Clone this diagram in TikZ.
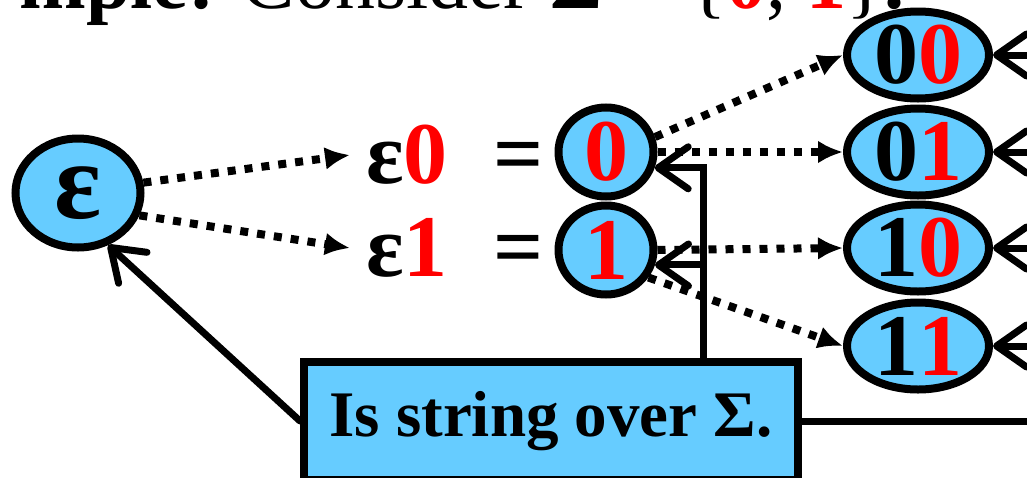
\documentclass[tikz,border=0pt]{standalone}
\usepackage{fontspec}
\setmainfont{Liberation Serif}
\usetikzlibrary{arrows.meta, shapes.geometric}

\definecolor{cellblue}{HTML}{66CCFF}

\begin{document}
\begin{tikzpicture}[
  x=1pt, y=-1pt,
  state/.style={ellipse, fill=cellblue, draw=black, line width=8pt, inner sep=0pt, font=\fontsize{88}{90}\selectfont\bfseries},
  single/.style={state, minimum width=95pt, minimum height=89pt},
  pair/.style={state, minimum width=142pt, minimum height=87pt},
  eqlabel/.style={anchor=west, inner xsep=16pt, inner ysep=0pt, font=\fontsize{88}{90}\selectfont\bfseries},
  dots/.style={line width=8pt, dash pattern=on 8pt off 9pt, -{Latex[length=25pt, width=23pt]}},
  back/.style={line width=7pt, line cap=round, -{Straight Barb[length=30pt, width=42pt, round]}},
  plain/.style={line width=7pt},
  note/.style={rectangle, fill=cellblue, draw=black, line width=8pt, minimum width=494pt, minimum height=118pt, font=\fontsize{65}{70}\selectfont\bfseries},
]
\useasboundingbox (0,0) rectangle (1027,477);
\clip (0,0) rectangle (1027,477);

% Title (cut by the frame)
\node[anchor=base east, inner sep=0pt, font=\fontsize{80}{80}\selectfont] (title) at (905,8)
  {\textbf{mple:} Consider \textbf{Σ} = \{{\color{red}\textbf{0}}, {\color{red}\textbf{1}}\}\textbf{.}};

% =========================
% empty string and its extensions
% =========================
\node[state, minimum width=125pt, minimum height=109pt, font=\fontsize{110}{110}\selectfont\bfseries] (eps) at (78,193) {ε};

\node[eqlabel] (lbl0) at (350,155) {ε{\color{red}0}\hspace{46pt}=};
\node[eqlabel] (lbl1) at (350,248) {ε{\color{red}1}\hspace{46pt}=};

\draw[dots] (eps.9) -- (lbl0.west);
\draw[dots] (eps.-20) -- (lbl1.west);

% =========================
% strings of length 1 and 2
% =========================
\node[single] (n0) at (606,152) {\color{red}0};
\node[single] (n1) at (606,250) {\color{red}1};

\node[pair] (n00) at (918,55)  {0{\color{red}0}};
\node[pair] (n01) at (918,152) {0{\color{red}1}};
\node[pair] (n10) at (918,248) {1{\color{red}0}};
\node[pair] (n11) at (918,346) {1{\color{red}1}};

\draw[dots] (n0.17)   -- (n00.west);
\draw[dots] (n0.east) -- (n01.west);
\draw[dots] (n1.east) -- (n10.west);
\draw[dots] (n1.-33)  -- (n11.west);

% =========================
% callout box
% =========================
\node[note] (str) at (551,421) {Is string over Σ.};

\coordinate (vx) at (703,0);
\coordinate (rx) at (1045,0);

\draw[back] (str.west) -- (eps.-60);
\draw[back] (str.north -| vx) |- (n0.-18);
\draw[back] (vx |- n1.-17) -- (n1.-17);
\draw[plain] (str.east) -- (str.east -| rx);
\foreach \n in {00,01,10,11} {
  \draw[back] (n\n.east -| rx) -- (n\n.east);
}

\end{tikzpicture}
\end{document}
